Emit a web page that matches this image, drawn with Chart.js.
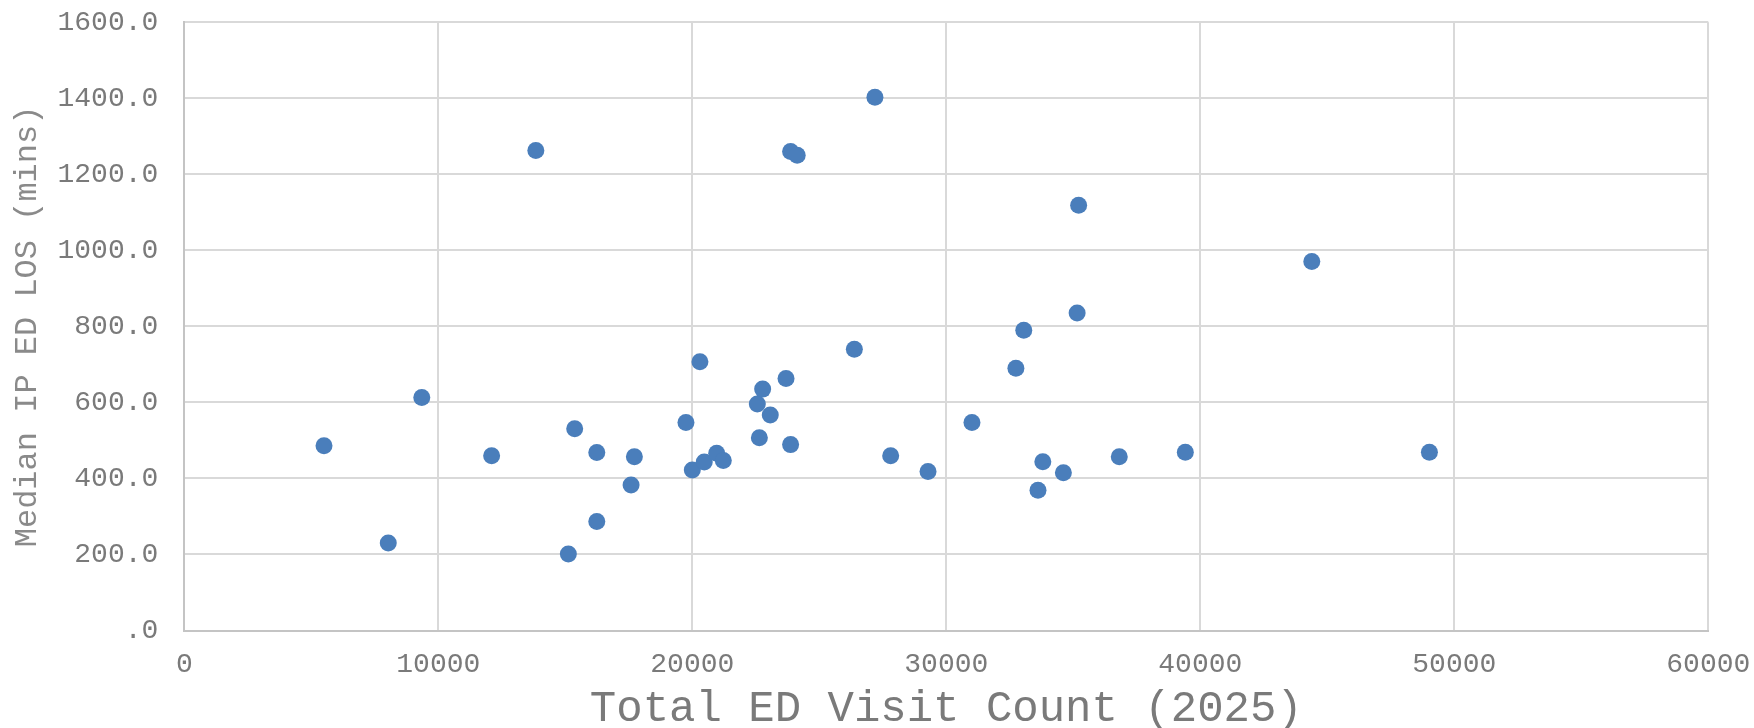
<!DOCTYPE html>
<html>
<head>
<meta charset="utf-8">
<title>Median IP ED LOS vs Total ED Visit Count</title>
<script src="https://cdn.jsdelivr.net/npm/chart.js@4/dist/chart.umd.min.js"></script>
<style>
  html, body { margin: 0; padding: 0; background: #ffffff; }
  #wrap { width: 1754px; height: 728px; }
</style>
</head>
<body>
<div id="wrap"><canvas id="chart" width="1754" height="728"></canvas></div>
<script>
// Total ED visit count per site (2025)
const visitCounts = [
  5500, 8030, 9350, 12100, 13840, 15120, 15370, 16240, 16240, 17590,
  17720, 19750, 20000, 20300, 20470, 20960, 21220, 22560, 22640, 22770,
  23070, 23690, 23870, 23870, 24130, 26380, 27190, 27810, 29280, 31010,
  32740, 33050, 33610, 33800, 34610, 35150, 35210, 36810, 39410, 44390,
  49020
];

// Median inpatient ED length of stay (minutes), same order as visitCounts
const medianLos = [
  486, 230, 613, 460, 1263, 201, 531, 468, 287, 383,
  457, 547, 422, 707, 443, 466, 447, 596, 507, 635,
  567, 663, 489, 1260, 1250, 740, 1403, 460, 418, 547,
  690, 790, 369, 444, 415, 835, 1119, 457, 469, 971,
  469
];

// Axis ranges and tick spacing
const xRange = [0, 60000];
const xStep = 10000;
const yRange = [0, 1600];
const yStep = 200;

const xTitle = 'Total ED Visit Count (2025)';
const yTitle = 'Median IP ED LOS (mins)';

const points = visitCounts.map((v, i) => ({ x: v, y: medianLos[i] }));

const monoFont = "'Liberation Mono', 'Courier New', monospace";
const labelGray = '#7a7a7a';
const gridGray = '#d9d9d9';

new Chart(document.getElementById('chart'), {
  type: 'scatter',
  data: {
    datasets: [{
      data: points,
      backgroundColor: '#4a7ebb',
      borderWidth: 0,
      pointRadius: 8.5,
      pointHoverRadius: 8.5
    }]
  },
  options: {
    responsive: false,
    animation: false,
    events: [],
    layout: { padding: { top: 22.3, right: 45.7, bottom: 0, left: 0 } },
    plugins: {
      legend: { display: false },
      tooltip: { enabled: false }
    },
    scales: {
      x: {
        type: 'linear',
        min: xRange[0],
        max: xRange[1],
        afterFit: (scale) => {
          scale.height = 97.5;
          scale.paddingLeft = 0;
          scale.paddingRight = 0;
        },
        ticks: {
          stepSize: xStep,
          padding: 17,
          color: labelGray,
          font: { family: monoFont, size: 28 },
          maxRotation: 0,
          callback: (v) => String(v)
        },
        grid: { color: gridGray, lineWidth: 2, drawTicks: false },
        border: { color: '#c4c4c4', width: 2 },
        title: {
          display: true,
          text: xTitle,
          color: labelGray,
          font: { family: monoFont, size: 44, lineHeight: 0.85 },
          padding: { top: 0, bottom: 0 }
        }
      },
      y: {
        type: 'linear',
        min: yRange[0],
        max: yRange[1],
        afterFit: (scale) => {
          scale.width = 184.3;
          scale.paddingTop = 0;
          scale.paddingBottom = 0;
        },
        ticks: {
          stepSize: yStep,
          padding: 26,
          color: labelGray,
          font: { family: monoFont, size: 28 },
          callback: (v) => (v === 0 ? '.0' : Number(v).toFixed(1))
        },
        grid: { color: gridGray, lineWidth: 2, drawTicks: false },
        border: { color: '#c4c4c4', width: 2 },
        title: {
          display: true,
          text: yTitle,
          color: '#8a8a8a',
          font: { family: monoFont, size: 32 },
          padding: { top: 8, bottom: 0 }
        }
      }
    }
  }
});
</script>
</body>
</html>
